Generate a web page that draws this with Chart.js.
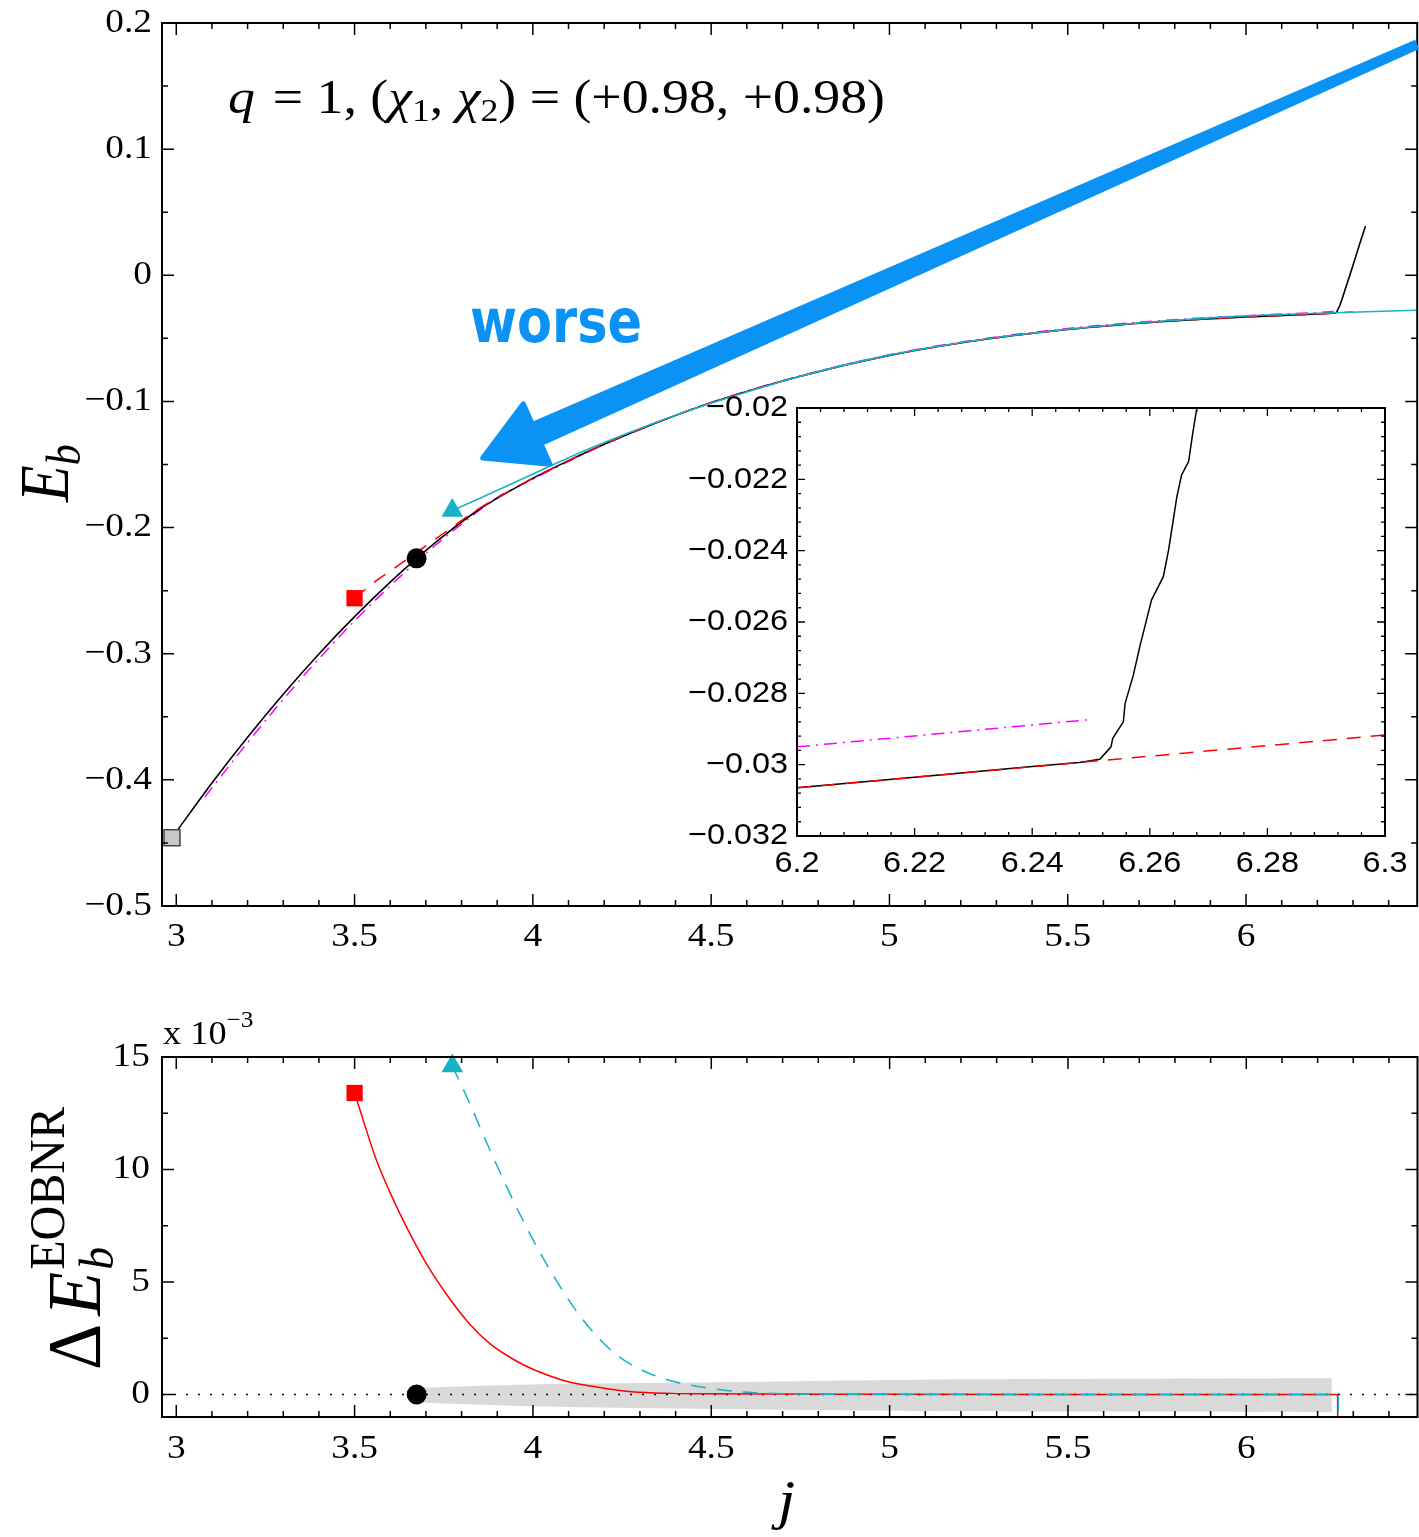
<!DOCTYPE html>
<html>
<head>
<meta charset="utf-8">
<script src="https://cdn.jsdelivr.net/npm/chart.js@4.4.1/dist/chart.umd.min.js"></script>
<style>
  html, body { margin: 0; padding: 0; background: #fff; overflow: hidden; }
  #wrap { position: relative; width: 1419px; height: 1537px; overflow: hidden; }
  canvas { position: absolute; }
  #main { left: 0; top: 0; }
  #bottom { left: 0; top: 1000px; }
  #inset { left: 680px; top: 390px; }
</style>
</head>
<body>
<div id="wrap">
  <canvas id="main" width="1430" height="960" style="width:1430px;height:960px"></canvas>
  <canvas id="bottom" width="1430" height="537" style="width:1430px;height:537px"></canvas>
  <canvas id="inset" width="730" height="500" style="width:730px;height:500px"></canvas>
</div>
<script>
// ---- top panel: E_b(j) ----
const nrJ = [2.988, 3.1, 3.2, 3.3, 3.4, 3.5, 3.6, 3.674, 3.75, 3.85, 4.0, 4.1, 4.2, 4.35, 4.5, 4.75, 5.0, 5.25, 5.5, 5.75, 6.0, 6.2, 6.248, 6.2515, 6.2534, 6.2558, 6.2583, 6.2603, 6.2632, 6.2654, 6.268, 6.28, 6.30, 6.32, 6.335];
const nrE = [-0.4459, -0.4025, -0.3662, -0.3321, -0.3002, -0.2706, -0.2432, -0.2244, -0.2065, -0.1855, -0.1610, -0.1470, -0.1340, -0.1165, -0.1010, -0.0800, -0.0635, -0.0515, -0.0430, -0.0370, -0.0330, -0.03065, -0.02994, -0.02985, -0.0295, -0.02828, -0.02669, -0.02538, -0.02398, -0.02188, -0.0200, -0.0095, 0.008, 0.026, 0.039];

const redJ = [3.5, 3.55, 3.6, 3.65, 3.7, 3.75, 3.85, 4.0, 4.1, 4.2, 4.35, 4.5, 4.75, 5.0, 5.25, 5.5, 5.75, 6.0, 6.2, 6.3];
const redE = [-0.256, -0.2445, -0.2345, -0.2245, -0.2145, -0.2045, -0.1848, -0.1608, -0.1469, -0.1339, -0.1165, -0.1010, -0.0800, -0.0635, -0.0515, -0.0430, -0.0370, -0.0330, -0.03065, -0.02917];

const magJ = [3.08, 3.2, 3.3, 3.4, 3.5, 3.6, 3.7, 3.8, 3.9, 4.0, 4.1, 4.2, 4.35, 4.5, 4.75, 5.0, 5.25, 5.5, 5.75, 6.0, 6.2, 6.25];
const magE = [-0.4135, -0.3705, -0.3362, -0.3040, -0.2740, -0.2462, -0.2205, -0.1972, -0.1762, -0.1615, -0.1475, -0.1342, -0.1165, -0.1008, -0.0797, -0.0630, -0.0509, -0.0422, -0.0361, -0.0320, -0.0295, -0.02873];

const cyanJ = [3.774, 3.85, 4.0, 4.15, 4.3, 4.45, 4.6, 4.75, 5.0, 5.25, 5.5, 5.75, 6.0, 6.25, 6.48];
const cyanE = [-0.1865, -0.177, -0.1575, -0.1385, -0.1215, -0.1060, -0.0925, -0.0800, -0.0633, -0.0513, -0.0428, -0.0366, -0.0322, -0.0297, -0.0277];

const topMarkJ = [2.988, 3.674, 3.5, 3.774];   // grey square, black circle, red square, cyan triangle
const topMarkE = [-0.4459, -0.2244, -0.256, -0.1865];

const arrowJ = [6.48, 3.867];   // tail, tip
const arrowE = [0.183, -0.1438];

const mainXTicks = [3, 3.5, 4, 4.5, 5, 5.5, 6];
const mainYTicks = [0.2, 0.1, 0, -0.1, -0.2, -0.3, -0.4, -0.5];

// ---- inset ----
const insNrJ = [6.2, 6.22, 6.24, 6.248, 6.2515, 6.2534, 6.2537, 6.2555, 6.2558, 6.2572, 6.2583, 6.2603, 6.2623, 6.2632, 6.2646, 6.2654, 6.2666, 6.2673, 6.268, 6.27];
const insNrE = [-0.03065, -0.03035, -0.03005, -0.02994, -0.02985, -0.0295, -0.02926, -0.0288, -0.02828, -0.02749, -0.02669, -0.02538, -0.02473, -0.02398, -0.02249, -0.02188, -0.0215, -0.02071, -0.0200, -0.0185];
const insRedJ = [6.2, 6.3];
const insRedE = [-0.03065, -0.02917];
const insMagJ = [6.2, 6.2503];
const insMagE = [-0.0295, -0.02873];
const insXTicks = [6.2, 6.22, 6.24, 6.26, 6.28, 6.3];
const insYTicks = [-0.02, -0.022, -0.024, -0.026, -0.028, -0.03, -0.032];

// ---- bottom panel: Delta E_b (x 1e-3) ----
const dRedJ = [3.5, 3.53, 3.561, 3.6, 3.645, 3.7, 3.76, 3.821, 3.88, 3.952, 4.0, 4.091, 4.2, 4.277, 4.39, 4.5, 5.0, 5.5, 6.0, 6.25, 6.256, 6.2565];
const dRedV = [13.4, 11.9, 10.42, 8.95, 7.46, 5.85, 4.4, 3.16, 2.25, 1.5, 1.12, 0.6, 0.28, 0.12, 0.05, 0.03, 0.01, 0, 0, 0, 0, -3];
const dCyanJ = [3.774, 3.821, 3.87, 3.92, 3.97, 4.02, 4.07, 4.12, 4.17, 4.22, 4.27, 4.32, 4.4, 4.49, 4.6, 4.72, 5.0, 6.0, 6.258, 6.2585];
const dCyanV = [14.6, 13.0, 11.2, 9.45, 7.8, 6.3, 4.95, 3.75, 2.75, 1.95, 1.38, 0.98, 0.56, 0.29, 0.1, 0.03, 0, 0, 0, -3];
const bandJ  = [3.674, 4.0, 4.39, 5.08, 5.7, 6.24];
const bandHi = [0.3, 0.45, 0.52, 0.66, 0.70, 0.72];
const bandLo = [-0.35, -0.52, -0.62, -0.73, -0.76, -0.79];
const zeroJ = [2.96, 6.48];
const zeroV = [0, 0];
const botMarkJ = [3.674, 3.5, 3.774];   // black circle, red square, cyan triangle
const botMarkV = [0, 13.4, 14.6];
const botYTicks = [0, 5, 10, 15];

const CYAN = '#17b2c8';
const BLUE = '#0a93f5';
const SERIF = '"Liberation Serif", "Times New Roman", serif';
const SANS = '"Liberation Sans", Arial, sans-serif';

const pts = (xs, ys) => xs.map((x, i) => ({ x: x, y: ys[i] }));
const fmt = v => String(+v.toFixed(4)).replace('-', '\u2212');

function stretchText(ctx, str, x, y, font, sx, align, base) {
  ctx.save();
  ctx.translate(x, y);
  ctx.scale(sx, 1);
  ctx.font = font;
  ctx.textAlign = align;
  ctx.textBaseline = base;
  ctx.fillText(str, 0, 0);
  ctx.restore();
}

function richWidth(ctx, pieces) {
  let w = 0;
  pieces.forEach(p => { ctx.font = p.f; if (!p.stay) w += ctx.measureText(p.t).width + (p.k || 0); });
  return w;
}

function drawRich(ctx, pieces, x, y, sx, rot, color) {
  ctx.save();
  ctx.translate(x, y);
  ctx.scale(sx, 1);
  if (rot) ctx.rotate(-Math.PI / 2);
  ctx.textAlign = 'left';
  ctx.textBaseline = 'alphabetic';
  ctx.fillStyle = color || '#000';
  let cx = 0;
  pieces.forEach(p => {
    ctx.font = p.f;
    ctx.fillText(p.t, cx, p.dy || 0);
    if (!p.stay) cx += ctx.measureText(p.t).width + (p.k || 0);
  });
  ctx.restore();
}

function steps(min, max, step) {
  const out = [];
  for (let k = Math.ceil(min / step - 1e-6); k * step <= max + 1e-9; k++) out.push(k * step);
  return out;
}
const isMult = (v, m) => Math.abs(v / m - Math.round(v / m)) < 1e-6;

const framePlugin = {
  id: 'frame',
  beforeDraw(chart, args, o) {
    if (!o.whiteArea) return;
    const { ctx, chartArea: a } = chart;
    ctx.save();
    ctx.fillStyle = '#fff';
    ctx.fillRect(a.left, a.top, a.right - a.left, a.bottom - a.top);
    ctx.restore();
  },
  afterDraw(chart, args, o) {
    const { ctx, chartArea: a } = chart;
    const sx = chart.scales.x, sy = chart.scales.y;
    ctx.save();
    ctx.strokeStyle = '#000';
    ctx.lineWidth = o.frameWidth;
    ctx.strokeRect(a.left, a.top, a.right - a.left, a.bottom - a.top);
    ctx.lineWidth = o.tickWidth;
    ctx.beginPath();
    steps(sx.min, sx.max, o.xMinor).forEach(v => {
      const p = sx.getPixelForValue(v);
      const len = isMult(v, o.xMajor) ? o.majorLen : o.minorLen;
      ctx.moveTo(p, a.bottom); ctx.lineTo(p, a.bottom - len);
      ctx.moveTo(p, a.top); ctx.lineTo(p, a.top + len);
    });
    steps(sy.min, sy.max, o.yMinor).forEach(v => {
      const p = sy.getPixelForValue(v);
      const len = isMult(v, o.yMajor) ? o.majorLen : o.minorLen;
      ctx.moveTo(a.left, p); ctx.lineTo(a.left + len, p);
      ctx.moveTo(a.right, p); ctx.lineTo(a.right - len, p);
    });
    ctx.stroke();
    ctx.fillStyle = '#000';
    o.xTicks.forEach(v => stretchText(ctx, fmt(v), sx.getPixelForValue(v), a.bottom + o.xGap, o.font, o.sx, 'center', 'middle'));
    o.yTicks.forEach(v => stretchText(ctx, fmt(v), a.left - o.yGap, sy.getPixelForValue(v), o.font, o.sx, 'right', 'middle'));
    if (o.extra) o.extra(chart);
    ctx.restore();
  }
};

function lineSet(xs, ys, color, width, dash, extra) {
  return Object.assign({
    data: pts(xs, ys), borderColor: color, borderWidth: width, borderDash: dash || [],
    pointRadius: 0, fill: false, cubicInterpolationMode: 'monotone'
  }, extra || {});
}
function markSet(x, y, style, r, fillC, borderC, bw) {
  return {
    data: [{ x: x, y: y }], showLine: false, pointStyle: style, pointRadius: r,
    backgroundColor: fillC, borderColor: borderC, borderWidth: bw || 0, clip: false
  };
}

function baseOptions(xr, yr, pad, leftW, bottomH, frame) {
  return {
    responsive: false,
    animation: false,
    events: [],
    layout: { padding: pad },
    plugins: { legend: { display: false }, tooltip: { enabled: false }, frame: frame },
    scales: {
      x: {
        type: 'linear', min: xr[0], max: xr[1],
        grid: { display: false, drawTicks: false }, border: { display: false },
        ticks: { display: false }, afterFit: s => { s.height = bottomH; }
      },
      y: {
        type: 'linear', min: yr[0], max: yr[1],
        grid: { display: false, drawTicks: false }, border: { display: false },
        ticks: { display: false }, afterFit: s => { s.width = leftW; }
      }
    }
  };
}

// ---------- main chart ----------
function mainExtra(chart) {
  const ctx = chart.ctx;
  const sx = chart.scales.x, sy = chart.scales.y;
  // E_b label
  drawRich(ctx, [
    { t: 'E', f: 'italic 60px ' + SERIF },
    { t: 'b', f: 'italic 42px ' + SERIF, dy: 10 }
  ], 68, 502, 1.15, true);
  // parameter annotation
  const f = '48px ' + SERIF, fi = 'italic 48px ' + SERIF, fs = '32px ' + SERIF;
  const ann = [
    { t: 'q', f: fi, k: 4 }, { t: ' = 1, (', f: f },
    { t: '\u03c7', f: fi }, { t: '1', f: fs, dy: 8 }, { t: ', ', f: f },
    { t: '\u03c7', f: fi }, { t: '2', f: fs, dy: 8 }, { t: ') = (+0.98, +0.98)', f: f }
  ];
  const w = richWidth(ctx, ann);
  drawRich(ctx, ann, 228, 113, 657 / w, false);
  // arrow
  const tail = { x: sx.getPixelForValue(arrowJ[0]), y: sy.getPixelForValue(arrowE[0]) };
  const tip = { x: sx.getPixelForValue(arrowJ[1]), y: sy.getPixelForValue(arrowE[1]) };
  const dx = tip.x - tail.x, dy = tip.y - tail.y, L = Math.hypot(dx, dy);
  const ux = dx / L, uy = dy / L, nx = -uy, ny = ux;
  const headLen = 56, headW = 66, neckW = 26, tailW = 10;
  const hb = { x: tip.x - ux * headLen, y: tip.y - uy * headLen };
  ctx.fillStyle = BLUE; ctx.strokeStyle = BLUE; ctx.lineJoin = 'round'; ctx.lineWidth = 5;
  ctx.beginPath();
  ctx.moveTo(tail.x + nx * tailW / 2, tail.y + ny * tailW / 2);
  ctx.lineTo(hb.x + ux * 4 + nx * neckW / 2, hb.y + uy * 4 + ny * neckW / 2);
  ctx.lineTo(hb.x + ux * 4 - nx * neckW / 2, hb.y + uy * 4 - ny * neckW / 2);
  ctx.lineTo(tail.x - nx * tailW / 2, tail.y - ny * tailW / 2);
  ctx.closePath();
  ctx.fill();
  ctx.beginPath();
  ctx.moveTo(tip.x + ux * 3, tip.y + uy * 3);
  ctx.lineTo(hb.x + nx * headW / 2, hb.y + ny * headW / 2);
  ctx.lineTo(hb.x - nx * headW / 2, hb.y - ny * headW / 2);
  ctx.closePath();
  ctx.fill(); ctx.stroke();
  // "worse"
  const wp = [{ t: 'worse', f: 'bold 60px "DejaVu Sans", sans-serif' }];
  drawRich(ctx, wp, 470, 342, 172 / richWidth(ctx, wp), false, BLUE);
}

new Chart(document.getElementById('main'), {
  type: 'line',
  data: {
    datasets: [
      markSet(topMarkJ[0], topMarkE[0], 'rect', 11.3, '#c8c8c8', '#444', 1.5),
      markSet(topMarkJ[1], topMarkE[1], 'circle', 10, '#000', '#000', 0),
      markSet(topMarkJ[2], topMarkE[2], 'rect', 11.5, '#ff0000', '#ff0000', 0),
      markSet(topMarkJ[3], topMarkE[3], 'triangle', 12.5, CYAN, CYAN, 0),
      lineSet(cyanJ, cyanE, CYAN, 1.6),
      lineSet(redJ, redE, '#ff0000', 1.5, [14, 11]),
      lineSet(nrJ, nrE, '#000', 1.6),
      lineSet(magJ, magE, '#ff00ff', 1.5, [12, 6, 2, 6])
    ]
  },
  options: baseOptions([2.96, 6.48], [-0.5, 0.2], { top: 23, right: 8.2, left: 0, bottom: 0 }, 162, 54, {
    frameWidth: 2, tickWidth: 1.5, majorLen: 12, minorLen: 6,
    xMinor: 0.1, xMajor: 0.5, yMinor: 0.05, yMajor: 0.1,
    xTicks: mainXTicks, yTicks: mainYTicks, xGap: 31, yGap: 10,
    font: '34px ' + SERIF, sx: 1.1, extra: mainExtra
  }),
  plugins: [framePlugin]
});

// ---------- inset ----------
new Chart(document.getElementById('inset'), {
  type: 'line',
  data: {
    datasets: [
      lineSet(insRedJ, insRedE, '#ff0000', 1.5, [14, 10]),
      lineSet(insNrJ, insNrE, '#000', 1.5, [], { cubicInterpolationMode: 'default', tension: 0 }),
      lineSet(insMagJ, insMagE, '#ff00ff', 1.5, [13, 6, 2, 6])
    ]
  },
  options: baseOptions([6.2, 6.3], [-0.032, -0.02], { top: 18, right: 25, left: 0, bottom: 0 }, 117, 54, {
    whiteArea: true, frameWidth: 2, tickWidth: 1.3, majorLen: 8, minorLen: 4,
    xMinor: 0.004, xMajor: 0.02, yMinor: 0.0004, yMajor: 0.002,
    xTicks: insXTicks, yTicks: insYTicks, xGap: 28, yGap: 9,
    font: '30px ' + SANS, sx: 1.08
  }),
  plugins: [framePlugin]
});

// ---------- bottom chart ----------
function bottomExtra(chart) {
  const ctx = chart.ctx;
  // x 10^-3
  drawRich(ctx, [
    { t: 'x 10', f: '33px ' + SERIF },
    { t: '\u22123', f: '23px ' + SERIF, dy: -17 }
  ], 163, 44, 1.1, false);
  // j label
  drawRich(ctx, [{ t: 'j', f: 'italic 54px ' + SERIF }], 778, 518, 1.15, false);
  // Delta E_b^EOBNR
  drawRich(ctx, [
    { t: '\u0394', f: '72px ' + SERIF, k: 8 },
    { t: 'E', f: 'italic 72px ' + SERIF, k: 2 },
    { t: 'b', f: 'italic 46px ' + SERIF, dy: 12, stay: true },
    { t: 'EOBNR', f: '48px ' + SERIF, dy: -34 }
  ], 100, 370, 1.05, true);
}

new Chart(document.getElementById('bottom'), {
  type: 'line',
  data: {
    datasets: [
      markSet(botMarkJ[0], botMarkV[0], 'circle', 10, '#000', '#000', 0),
      markSet(botMarkJ[1], botMarkV[1], 'rect', 11.5, '#ff0000', '#ff0000', 0),
      markSet(botMarkJ[2], botMarkV[2], 'triangle', 12.5, CYAN, CYAN, 0),
      lineSet(dCyanJ, dCyanV, CYAN, 1.5, [15, 11]),
      lineSet(dRedJ, dRedV, '#ff0000', 1.5),
      lineSet(zeroJ, zeroV, '#000', 1.5, [2, 10], { cubicInterpolationMode: 'default' }),
      lineSet(bandJ, bandHi, 'rgba(0,0,0,0)', 0, [], { fill: '+1', backgroundColor: '#d9d9d9', cubicInterpolationMode: 'default', tension: 0.3 }),
      lineSet(bandJ, bandLo, 'rgba(0,0,0,0)', 0, [], { cubicInterpolationMode: 'default', tension: 0.3 })
    ]
  },
  options: baseOptions([2.96, 6.48], [-1, 15], { top: 57, right: 8.2, left: 0, bottom: 0 }, 162, 120, {
    frameWidth: 2, tickWidth: 1.5, majorLen: 12, minorLen: 6,
    xMinor: 0.1, xMajor: 0.5, yMinor: 2.5, yMajor: 5,
    xTicks: mainXTicks, yTicks: botYTicks, xGap: 32, yGap: 12,
    font: '34px ' + SERIF, sx: 1.1, extra: bottomExtra
  }),
  plugins: [framePlugin]
});
</script>
</body>
</html>
